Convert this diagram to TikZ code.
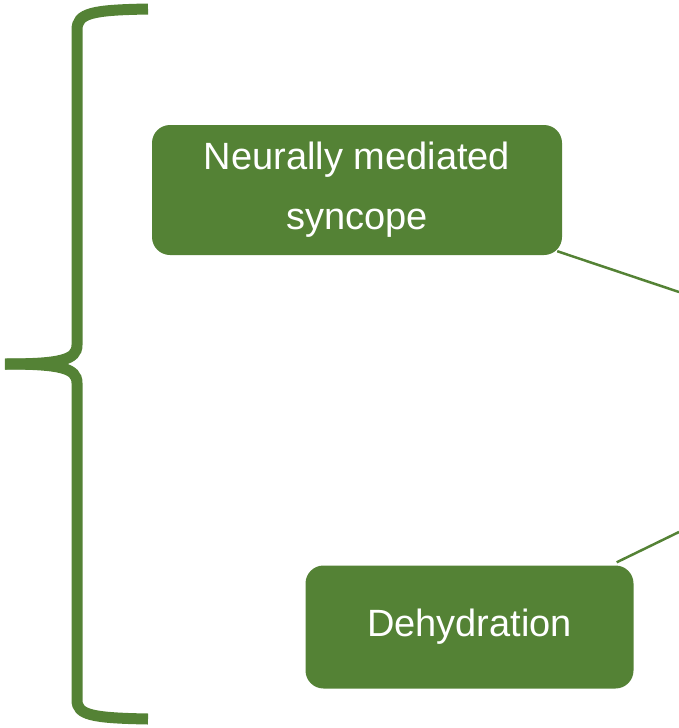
\documentclass[tikz,border=0pt]{standalone}
\usepackage{fontspec}
\setmainfont{Liberation Sans}
\usepackage{tikz}
\usetikzlibrary{positioning,calc}
\definecolor{leafgreen}{RGB}{84,130,53}

\begin{document}
\begin{tikzpicture}[x=1pt, y=-1pt,
    cause/.style={draw=none, fill=leafgreen, rounded corners=18pt,
      text=white, align=center, font=\fontsize{38}{60}\selectfont},
    link/.style={leafgreen, line width=2.5pt},
    bracket/.style={leafgreen, line width=11pt}]
  \useasboundingbox (0,0) rectangle (679,728);
  % the brace
  \draw[bracket] (148,9) .. controls (92,10) and (77,13) .. (77,30)
    -- (77,345) .. controls (77,360) and (60,364) .. (5,364);
  \draw[bracket] (5,364) .. controls (60,364) and (77,368) .. (77,383)
    -- (77,700) .. controls (77,715) and (92,718) .. (148,719);
  \node[cause, minimum width=410pt, minimum height=130pt] (nms) at (357,190)
    {Neurally mediated\\syncope};
  \node[cause, minimum width=328pt, minimum height=123pt] (dehyd) at (469.5,627)
    {Dehydration};
  \coordinate (out1) at (679,292);
  \coordinate (out2) at (679,532);
  \draw[link] ($(nms.south east)+(-5,-4)$) -- (out1);
  \draw[link] ($(dehyd.north east)+(-17,-3)$) -- (out2);
\end{tikzpicture}
\end{document}
